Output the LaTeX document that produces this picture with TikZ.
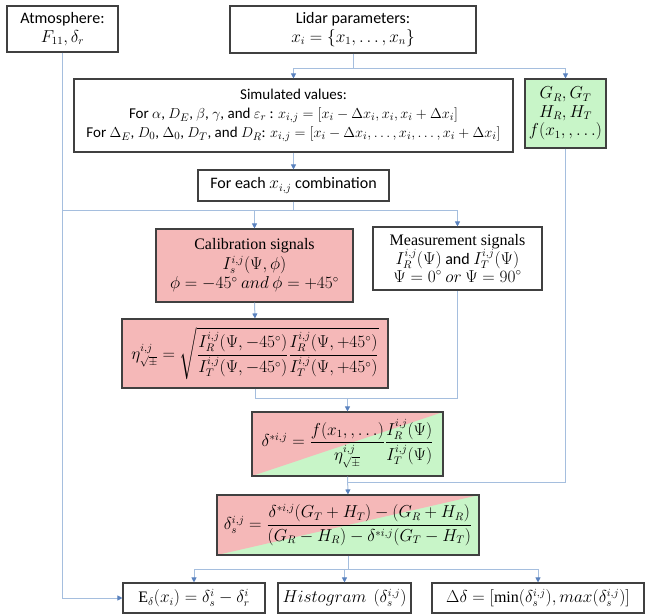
\documentclass[tikz,border=0pt]{standalone}
\usepackage{amsmath}
\usepackage{fontspec}
\setmainfont{Carlito}
\newfontfamily\serifcam{Liberation Serif}
\newcommand{\srm}[1]{\text{\serifcam #1}}
\usetikzlibrary{arrows.meta}
\definecolor{boxred}{RGB}{245,184,184}
\definecolor{boxgreen}{RGB}{200,245,200}
\definecolor{edgegray}{RGB}{64,64,64}
\definecolor{connblue}{RGB}{165,190,222}
\definecolor{tipblue}{RGB}{90,130,190}
\begin{document}
\begin{tikzpicture}[x=1pt,y=-1pt,
  font=\fontsize{16}{18.5}\selectfont,
  box/.style={draw=edgegray, line width=1.1pt, fill=white, inner sep=0pt, align=center},
  redbox/.style={box, fill=boxred},
  greenbox/.style={box, fill=boxgreen},
  splitbox/.style={box, fill=boxgreen, path picture={\fill[boxred] (path picture bounding box.north west) -- (path picture bounding box.north east) -- (path picture bounding box.south west) -- cycle;}},
  conn/.style={draw=connblue, line width=1pt},
  arr/.style={conn, -{Triangle[length=5pt,width=5pt,color=tipblue]}}]
\useasboundingbox (0,0) rectangle (646,616);

\node[box, minimum width=111pt, minimum height=46pt] (atm) at (62.5,29) {Atmosphere:\\ $F_{11},\delta_r$};
\node[box, minimum width=246pt, minimum height=47pt] (lidar) at (353,29.5) {Lidar parameters:\\ $x_i=\{x_1,\ldots,x_n\}$};
\node[box, minimum width=439pt, minimum height=73pt, font=\fontsize{15}{19}\selectfont] (sim) at (293.5,115.5) {Simulated values:\\
 For $\alpha$, $D_E$, $\beta$, $\gamma$, and $\varepsilon_r$ : $x_{i,j}=[x_i-\Delta x_i, x_i, x_i+\Delta x_i]$\\
 For $\Delta_E$, $D_0$, $\Delta_0$, $D_T$, and $D_R$: $x_{i,j}=[x_i-\Delta x_i,\ldots,x_i,\ldots,x_i+\Delta x_i]$};
\node[greenbox, minimum width=81pt, minimum height=69pt] (green) at (565.5,113.5) {$G_R,G_T$\\ $H_R,H_T$\\ $f(x_1,,\ldots)$};
\node[box, minimum width=191pt, minimum height=31pt] (each) at (293.5,185.5) {For each $x_{i,j}$ combination};
\node[redbox, minimum width=197pt, minimum height=73pt] (cal) at (254.5,265.5) {{\serifcam Calibration signals}\\[1pt] $I_s^{i,j}(\Psi,\phi)$\\[1pt] $\phi=-45^\circ\ and\ \phi=+45^\circ$};
\node[box, minimum width=169pt, minimum height=63pt] (meas) at (457.5,258.5) {{\serifcam Measurement signals}\\[-1pt] $I_R^{i,j}(\Psi)$ and $I_T^{i,j}(\Psi)$\\[-1pt] $\Psi=0^\circ\ or\ \Psi=90^\circ$};
\node[redbox, minimum width=266pt, minimum height=69pt] (eta) at (255,353.5) {$\eta_{\sqrt{\pm}}^{i,j}=\sqrt{\dfrac{I_R^{i,j}(\Psi,-45^\circ)}{I_T^{i,j}(\Psi,-45^\circ)}\dfrac{I_R^{i,j}(\Psi,+45^\circ)}{I_T^{i,j}(\Psi,+45^\circ)}}$};
\node[splitbox, minimum width=191pt, minimum height=64pt] (dstar) at (347.5,444) {$\delta^{\ast i,j}=\dfrac{f(x_1,,\ldots)}{\eta_{\sqrt{\pm}}^{i,j}}\dfrac{I_R^{i,j}(\Psi)}{I_T^{i,j}(\Psi)}$};
\node[splitbox, minimum width=262pt, minimum height=60pt] (ds) at (348,525) {$\delta_s^{i,j}=\dfrac{\delta^{\ast i,j}(G_T+H_T)-(G_R+H_R)}{(G_R-H_R)-\delta^{\ast i,j}(G_T-H_T)}$};
\node[box, minimum width=142pt, minimum height=30pt] (E) at (194,598) {$\srm{E}_\delta(x_i)=\delta_s^i-\delta_r^i$};
\node[box, minimum width=133pt, minimum height=30pt] (hist) at (344.5,598) {$Histogram\ \ (\delta_s^{i,j})$};
\node[box, minimum width=212pt, minimum height=30pt] (dd) at (538,598) {$\Delta\delta=[\srm{min}(\delta_s^{i,j}),max(\delta_s^{i,j})]$};

\coordinate (r1) at (0,68);
\coordinate (r2) at (0,210);
\coordinate (r3) at (0,398);
\coordinate (r4) at (0,482);
\coordinate (r5) at (0,569);

\draw[conn] (lidar.south) -- (lidar.south |- r1);
\draw[arr] (sim.north |- r1) -- (sim.north);
\draw[arr] (sim.north |- r1) -- (green.north |- r1) -- (green.north);
\draw[arr] (sim.south) -- (each.north);
\draw[conn] (each.south) -- (each.south |- r2);
\draw[conn] (atm.south |- r2) -- (meas.north |- r2);
\draw[arr] (cal.north |- r2) -- (cal.north);
\draw[arr] (meas.north |- r2) -- (meas.north);
\draw[arr] (atm.south) |- (E.west);
\draw[arr] (cal.south) -- (eta.north);
\draw[conn] (eta.south) -- (eta.south |- r3) -- (meas.south |- r3) -- (meas.south);
\draw[arr] (dstar.north |- r3) -- (dstar.north);
\draw[arr] (dstar.south) -- (ds.north);
\draw[conn] (green.south) -- (green.south |- r4) -- (ds.north |- r4);
\draw[conn] (ds.south) -- (ds.south |- r5);
\draw[conn] (E.north |- r5) -- (dd.north |- r5);
\draw[arr] (E.north |- r5) -- (E.north);
\draw[arr] (hist.north |- r5) -- (hist.north);
\draw[arr] (dd.north |- r5) -- (dd.north);
\end{tikzpicture}
\end{document}
